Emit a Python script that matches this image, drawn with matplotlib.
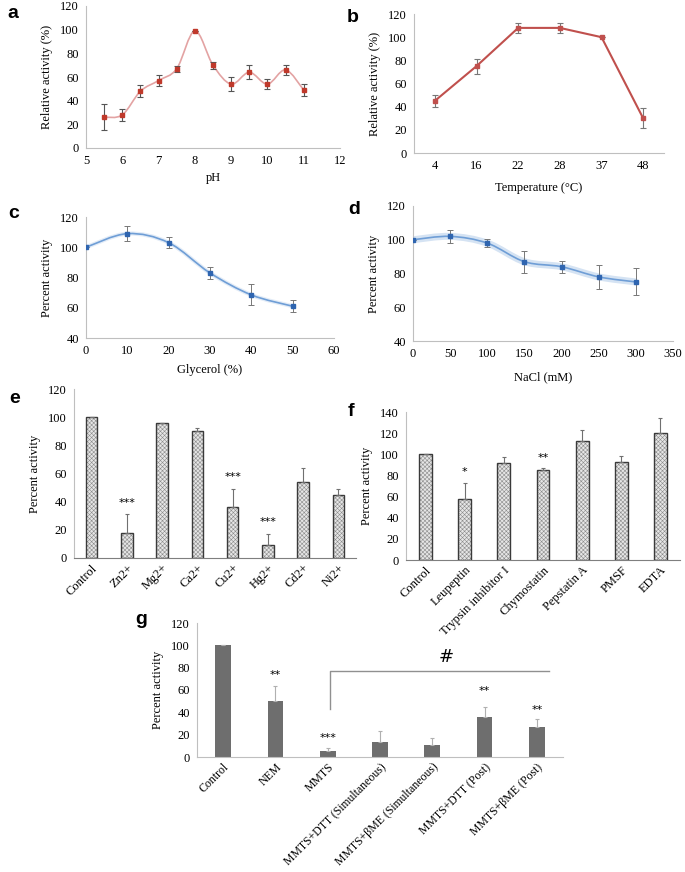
import numpy as np
import matplotlib
matplotlib.use("Agg")
import matplotlib.pyplot as plt
from matplotlib.path import Path
from matplotlib.patches import PathPatch

plt.rcParams['font.family'] = ['Liberation Serif', 'DejaVu Serif']
plt.rcParams['font.size'] = 9
plt.rcParams['hatch.linewidth'] = 0.4

## data ##

# a: pH profile
ph = [5.5, 6, 6.5, 7, 7.5, 8, 8.5, 9, 9.5, 10, 10.5, 11]
ph_act = [26, 28, 48, 57, 67, 99, 70, 54, 64, 54, 66, 49]
ph_err = [11, 5, 5, 5, 2.5, 0, 3, 6, 6, 4, 4.5, 5]

# b: temperature profile
temp_labels = ['4', '16', '22', '28', '37', '48']
temp_act = [45, 75, 108, 108, 100, 30]
temp_err = [5, 6.5, 4.5, 4.5, 0, 8.5]

# c: glycerol
glycerol = [0, 10, 20, 30, 40, 50]
gly_act = [100, 109, 103, 83, 68.5, 61]
gly_err = [0, 5, 3.5, 4, 7, 4]

# d: NaCl
nacl = [0, 50, 100, 150, 200, 250, 300]
nacl_act = [100, 102, 98, 87, 84, 78, 75]
nacl_err = [0, 4, 2.5, 6.5, 3.5, 7, 8]

# e: metal ions
metals = ['Control', 'Zn2+', 'Mg2+', 'Ca2+', 'Cu2+', 'Hg2+', 'Cd2+', 'Ni2+']
metal_act = [100, 18, 96, 90, 36, 9, 54, 45]
metal_err = [0, 13, 0, 2, 13, 8, 10, 4]
metal_sig = ['', '***', '', '', '***', '***', '', '']

# f: protease inhibitors
inhib = ['Control', 'Leupeptin', 'Trypsin inhibitor I', 'Chymostatin',
         'Pepstatin A', 'PMSF', 'EDTA']
inhib_act = [100, 58, 92, 85, 113, 93, 120]
inhib_err = [0, 15, 5, 2, 10, 5, 14]
inhib_sig = ['', '*', '', '**', '', '', '']

# g: thiol reagents
thiol = ['Control', 'NEM', 'MMTS', 'MMTS+DTT (Simultaneous)',
         'MMTS+\u03b2ME (Simultaneous)', 'MMTS+DTT (Post)', 'MMTS+\u03b2ME (Post)']
thiol_act = [100, 50, 5, 13, 11, 36, 27]
thiol_err = [0, 14, 3, 10, 6, 9, 7]
thiol_sig = ['', '**', '***', '', '', '**', '**']

## ##

W, H = 685, 872
fig = plt.figure(figsize=(W / 100, H / 100), dpi=100)


def box(l, t, r, b):
    # pixel box -> figure axes, transparent so rotated labels of the panel above stay visible
    ax = fig.add_axes([l / W, 1 - b / H, (r - l) / W, (b - t) / H])
    ax.patch.set_visible(False)
    return ax


def excel_style(ax, left='#bfbfbf', bottom='#bfbfbf'):
    ax.spines['top'].set_visible(False)
    ax.spines['right'].set_visible(False)
    ax.spines['left'].set_color(left)
    ax.spines['bottom'].set_color(bottom)
    ax.tick_params(length=0, pad=5, labelsize=9)


def smooth(ax, x, y, color, lw=1.0, glow=None, glow_lw=4):
    # excel-like smoothed line through the data points
    n = len(x)
    verts = [(x[0], y[0])]
    codes = [Path.MOVETO]
    for i in range(n - 1):
        a = max(i - 1, 0)
        d = min(i + 2, n - 1)
        c1 = (x[i] + (x[i + 1] - x[a]) / 6, y[i] + (y[i + 1] - y[a]) / 6)
        c2 = (x[i + 1] - (x[d] - x[i]) / 6, y[i + 1] - (y[d] - y[i]) / 6)
        verts += [c1, c2, (x[i + 1], y[i + 1])]
        codes += [Path.CURVE4] * 3
    p = Path(verts, codes)
    if glow:
        ax.add_patch(PathPatch(p, fill=False, edgecolor=glow, lw=glow_lw, zorder=1))
    ax.add_patch(PathPatch(p, fill=False, edgecolor=color, lw=lw, zorder=2))


def letter(x, y, s):
    fig.text(x / W, 1 - y / H, s, fontsize=14, fontweight='bold',
             family='Liberation Sans', ha='left', va='center')


# ---- a ----
ax = box(86, 6, 340, 148)
smooth(ax, ph, ph_act, '#e3a3a3', lw=1.2)
ax.errorbar(ph, ph_act, yerr=ph_err, fmt='none', ecolor='#555555',
            elinewidth=0.8, capsize=2, capthick=0.8, zorder=3)
ax.plot(ph, ph_act, 's', color='#c0392b', ms=2.6, zorder=4)
ax.set_xlim(5, 12)
ax.set_ylim(0, 120)
ax.set_xticks(range(5, 13))
ax.set_yticks(range(0, 121, 20))
ax.set_xlabel('pH', labelpad=4)
ax.set_ylabel('Relative activity (%)', labelpad=5)
excel_style(ax)
letter(7, 13, 'a')

# ---- b ----
ax = box(414, 14, 664, 153)
xb = np.arange(len(temp_labels))
ax.errorbar(xb, temp_act, yerr=temp_err, fmt='none', ecolor='#777777',
            elinewidth=0.8, capsize=2, capthick=0.8, zorder=2)
ax.plot(xb, temp_act, '-s', color='#c0504d', lw=1.5, ms=2.8, zorder=3)
ax.set_xlim(-0.5, len(temp_labels) - 0.5)
ax.set_ylim(0, 120)
ax.set_xticks(xb)
ax.set_xticklabels(temp_labels)
ax.set_yticks(range(0, 121, 20))
ax.set_xlabel('Temperature (\u00b0C)', labelpad=7)
ax.set_ylabel('Relative activity (%)', labelpad=5)
excel_style(ax)
letter(347, 18, 'b')

# ---- c ----
ax = box(86, 217, 334, 338)
smooth(ax, glycerol, gly_act, '#6f9ed6', lw=1.2, glow='#e3ecf7', glow_lw=3)
ax.errorbar(glycerol, gly_act, yerr=gly_err, fmt='none', ecolor='#777777',
            elinewidth=0.7, capsize=2, capthick=0.7, zorder=3)
ax.plot(glycerol, gly_act, 's', color='#2f65b0', ms=2.6, zorder=4)
ax.set_xlim(0, 60)
ax.set_ylim(40, 120)
ax.set_xticks(range(0, 61, 10))
ax.set_yticks(range(40, 121, 20))
ax.set_xlabel('Glycerol (%)', labelpad=5)
ax.set_ylabel('Percent activity', labelpad=5)
excel_style(ax)
letter(8, 213, 'c')

# ---- d ----
ax = box(413, 206, 673, 341)
smooth(ax, nacl, nacl_act, '#6f9ed6', lw=1.2, glow='#d5e3f3', glow_lw=5)
ax.errorbar(nacl, nacl_act, yerr=nacl_err, fmt='none', ecolor='#777777',
            elinewidth=0.7, capsize=2, capthick=0.7, zorder=3)
ax.plot(nacl, nacl_act, 's', color='#2f65b0', ms=2.6, zorder=4)
ax.set_xlim(0, 350)
ax.set_ylim(40, 120)
ax.set_xticks(range(0, 351, 50))
ax.set_yticks(range(40, 121, 20))
ax.set_xlabel('NaCl (mM)', labelpad=8)
ax.set_ylabel('Percent activity', labelpad=5)
excel_style(ax)
letter(348, 209, 'd')


def hatched_bars(ax, labels, vals, errs, sig, ymax, step, star_size=8):
    x = np.arange(len(labels))
    ax.bar(x, vals, width=0.33, color='#e6e6e6', edgecolor='#8c8c8c',
           hatch='xxxxxxxx', lw=0, zorder=2)
    ax.bar(x, vals, width=0.33, fill=False, edgecolor='#3a3a3a', lw=1.0, zorder=3)
    ax.errorbar(x, vals, yerr=[np.zeros(len(errs)), errs], fmt='none',
                ecolor='#707070', elinewidth=0.8, capsize=1.5, capthick=0.8,
                zorder=4)
    for xi, v, e, s in zip(x, vals, errs, sig):
        if s:
            ax.text(xi, v + e + ymax * 0.07, s, ha='center', va='center',
                    fontsize=star_size, family='DejaVu Sans')
    ax.set_xlim(-0.5, len(labels) - 0.5)
    ax.set_ylim(0, ymax)
    ax.set_yticks(range(0, ymax + 1, step))
    ax.set_xticks(x)
    ax.set_xticklabels(labels, rotation=45, ha='right', rotation_mode='anchor')
    ax.set_ylabel('Percent activity', labelpad=5)
    excel_style(ax, '#bfbfbf', '#7f7f7f')
    ax.tick_params(axis='x', pad=3)


# ---- e ----
ax = box(74, 389, 356, 558)
hatched_bars(ax, metals, metal_act, metal_err, metal_sig, 120, 20)
letter(9, 398, 'e')

# ---- f ----
ax = box(406, 412, 680, 560)
hatched_bars(ax, inhib, inhib_act, inhib_err, inhib_sig, 140, 20)
letter(348, 412, 'f')

# ---- g ----
ax = box(197, 623, 563, 757)
xg = np.arange(len(thiol))
ax.bar(xg, thiol_act, width=0.3, color='#6e6e6e', zorder=2)
ax.errorbar(xg, thiol_act, yerr=[np.zeros(len(thiol_err)), thiol_err],
            fmt='none', ecolor='#b0b0b0', elinewidth=0.8, capsize=1.5,
            capthick=0.8, zorder=3)
star_y = [0, 73, 17, 0, 0, 59, 42]
for xi, s, sy in zip(xg, thiol_sig, star_y):
    if s:
        ax.text(xi, sy, s, ha='center', va='center', fontsize=8,
                family='DejaVu Sans')
# bracket MMTS vs. post-treatment rescue
ax.plot([2.04, 2.04, 6.23], [43, 77.3, 77.3], color='#909090', lw=1.0,
        zorder=1, clip_on=False)
ax.text(4.27, 89.5, '#', ha='center', va='center', fontsize=13,
        family='DejaVu Sans')
ax.set_xlim(-0.5, len(thiol) - 0.5)
ax.set_ylim(0, 120)
ax.set_yticks(range(0, 121, 20))
ax.set_xticks(xg)
ax.set_xticklabels(thiol, rotation=45, ha='right', rotation_mode='anchor',
                   fontsize=8.5)
ax.set_ylabel('Percent activity', labelpad=5)
excel_style(ax)
ax.tick_params(axis='x', pad=3, labelsize=8.5)
letter(135, 620, 'g')

fig.savefig('out.png', dpi=100)
